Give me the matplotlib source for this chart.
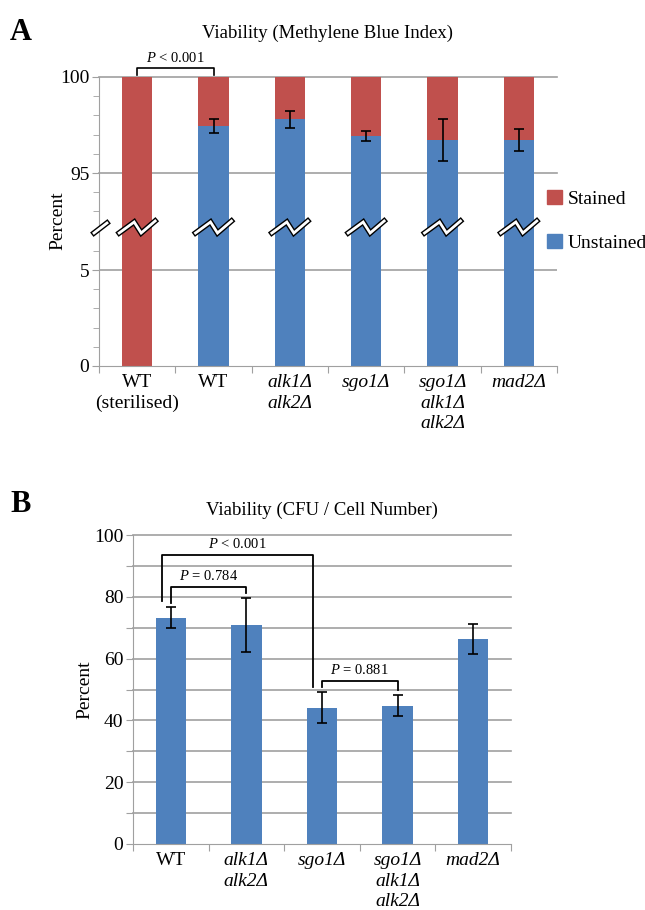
import numpy as np
import matplotlib
matplotlib.use("Agg")
import matplotlib.pyplot as plt
from matplotlib import font_manager as fm
from matplotlib.lines import Line2D
from matplotlib.patches import Patch
from matplotlib.ticker import MultipleLocator

plt.rcParams['font.family'] = ['Liberation Serif', 'DejaVu Serif']
plt.rcParams['mathtext.fontset'] = 'custom'
plt.rcParams['mathtext.it'] = 'Liberation Serif:italic'
plt.rcParams['mathtext.rm'] = 'Liberation Serif'

# panel A: methylene blue index
strains_a = ['WT\n(sterilised)', 'WT', 'alk1Δ\nalk2Δ', 'sgo1Δ', 'sgo1Δ\nalk1Δ\nalk2Δ', 'mad2Δ']
italic_a = [False, False, True, True, True, True]
unstained = [0.0, 97.45, 97.8, 96.93, 96.72, 96.72]
unstained_err = [0.0, 0.35, 0.45, 0.27, 1.08, 0.55]
stained = [100 - u for u in unstained]

# panel B: CFU / cell number
strains_b = ['WT', 'alk1Δ\nalk2Δ', 'sgo1Δ', 'sgo1Δ\nalk1Δ\nalk2Δ', 'mad2Δ']
italic_b = [False, True, True, True, True]
cfu = [73.3, 70.9, 44.1, 44.8, 66.3]
cfu_err = [3.3, 8.7, 5.1, 3.4, 4.9]
# comparisons: (bar i, bar j, bracket height, label)
comparisons_b = [(0, 1, 83.2, '$P$ = 0.784'), (0, 2, 93.5, '$P$ < 0.001'), (2, 3, 52.9, '$P$ = 0.881')]

RED = '#C0504D'
BLUE = '#4F81BD'
GRID = '#A0A0A0'
W, H = 645, 910

# look up the serif italic file directly so the labels stay in the serif face
italic_fp = fm.FontProperties(family=['Liberation Serif', 'DejaVu Serif'], style='italic', size=14)
for f in fm.fontManager.ttflist:
    if f.name == 'Liberation Serif' and f.style == 'italic' and f.weight in (400, 'normal', 'regular'):
        italic_fp = fm.FontProperties(fname=f.fname, size=14)
        break

fig = plt.figure(figsize=(W / 100, H / 100), dpi=100)


def px(x, y, w, h):
    return [x / W, 1 - (y + h) / H, w / W, h / H]


def style_axis(ax, spines):
    for s in ['top', 'right', 'bottom', 'left']:
        ax.spines[s].set_visible(s in spines)
        ax.spines[s].set_color(GRID)
    ax.tick_params(which='both', colors=GRID, labelcolor='black', labelsize=14)


def cat_labels(ax, x, labels, italic):
    ax.set_xticks(np.arange(len(labels) + 1) - 0.5)
    ax.set_xticklabels([])
    ax.set_xticks(x, minor=True)
    ax.set_xticklabels(labels, minor=True, linespacing=1.25)
    ax.tick_params(axis='x', which='major', length=5)
    ax.tick_params(axis='x', which='minor', length=0, pad=6, labelsize=14)
    for lab, it in zip(ax.get_xticklabels(minor=True), italic):
        if it:
            lab.set_fontproperties(italic_fp)


# ---------- panel A ----------
top_break = 92.14
bot_break = 7.19
axA1 = fig.add_axes(px(99, 77, 458, 151))
axA2 = fig.add_axes(px(99, 228, 458, 138))
xa = np.arange(len(strains_a))
for ax in (axA1, axA2):
    ax.bar(xa, unstained, width=0.4, color=BLUE, zorder=2)
    ax.bar(xa, stained, bottom=unstained, width=0.4, color=RED, zorder=2)
    ax.set_xlim(-0.5, len(strains_a) - 0.5)
    ax.yaxis.set_minor_locator(MultipleLocator(1))
axA1.set_ylim(top_break, 100)
axA2.set_ylim(0, bot_break)
axA1.set_yticks([95, 100])
axA2.set_yticks([0, 5])
style_axis(axA1, ['left'])
style_axis(axA2, ['left', 'bottom'])
for ax in (axA1, axA2):
    ax.tick_params(axis='y', which='major', length=5, pad=2)
    ax.tick_params(axis='y', which='minor', length=4)
axA1.set_xticks([])
cat_labels(axA2, xa, strains_a, italic_a)
for yv in (95, 100):
    axA1.axhline(yv, color=GRID, lw=1.2, zorder=1, clip_on=False)
axA2.axhline(5, color=GRID, lw=1.2, zorder=1)

idx = [i for i in xa if unstained_err[i] > 0]
axA1.errorbar([xa[i] for i in idx], [unstained[i] for i in idx],
              yerr=[unstained_err[i] for i in idx], fmt='none', ecolor='black',
              elinewidth=1.2, capsize=3.5, capthick=1.2, zorder=3)

# bracket for panel A
axA1.plot([0, 0, 1, 1], [100.1, 100.47, 100.47, 100.1], color='black', lw=1.2,
          clip_on=False, zorder=4)
axA1.text(0.5, 100.62, '$P$ < 0.001', ha='center', va='bottom', fontsize=10.5)

# break marks
fig.canvas.draw()
inv = fig.transFigure.inverted()
ybrk = axA2.transAxes.transform((0, 1))[1]


def break_mark(xd, offsets):
    pts = np.array([(xd + dx, ybrk + dy) for dx, dy in offsets])
    f = inv.transform(pts)
    fig.add_artist(Line2D(f[:, 0], f[:, 1], color='black', lw=4.0,
                          solid_joinstyle='miter', zorder=10))
    fig.add_artist(Line2D(f[:, 0], f[:, 1], color='white', lw=2.0,
                          solid_joinstyle='miter', zorder=11))


for i in xa:
    xd = axA2.transData.transform((i, 0))[0]
    break_mark(xd, [(-18, -5), (-3, 6), (4, -5), (18, 7)])
xd0 = axA2.transAxes.transform((0, 0))[0]
break_mark(xd0, [(-5, -5), (8, 5)])

fig.legend(handles=[Patch(color=RED), Patch(color=BLUE)],
           labels=['Stained', 'Unstained'], loc='upper left',
           bbox_to_anchor=(547 / W, 1 - 190 / H), frameon=False, fontsize=14,
           handlelength=0.75, handleheight=0.75, handletextpad=0.3,
           labelspacing=1.35, borderpad=0, borderaxespad=0)

fig.text(328 / W, 1 - 33 / H, 'Viability (Methylene Blue Index)', ha='center',
         va='center', fontsize=13.5)
fig.text(58 / W, 1 - 221 / H, 'Percent', ha='center', va='center',
         rotation=90, fontsize=14)
fig.text(10 / W, 1 - 33 / H, 'A', ha='left', va='center', fontsize=22,
         fontweight='bold')

# ---------- panel B ----------
axB = fig.add_axes(px(133, 535, 378, 309))
xb = np.arange(len(strains_b))
axB.bar(xb, cfu, width=0.4, color=BLUE, zorder=2)
axB.errorbar(xb, cfu, yerr=cfu_err, fmt='none', ecolor='black',
             elinewidth=1.2, capsize=3.5, capthick=1.2, zorder=3)
axB.set_xlim(-0.5, len(strains_b) - 0.5)
axB.set_ylim(0, 100)
style_axis(axB, ['left', 'bottom'])
axB.set_yticks(np.arange(0, 101, 10))
axB.set_yticklabels([str(v) if v % 20 == 0 else '' for v in range(0, 101, 10)])
axB.tick_params(axis='y', length=5, pad=2)
for yv in range(10, 101, 10):
    axB.axhline(yv, color=GRID, lw=1.2, zorder=1, clip_on=False)
cat_labels(axB, xb, strains_b, italic_b)

gap = 1.5
for i, j, yt, lab in comparisons_b:
    xi, xj = i, j
    if j - i > 1:
        xi, xj = i - 0.12, j - 0.12
    yi = cfu[i] + cfu_err[i] + gap
    yj = cfu[j] + cfu_err[j] + gap
    if j - i > 1:
        yi = yi + 0.5
    axB.plot([xi, xi, xj, xj], [yi, yt, yt, yj], color='black', lw=1.3, zorder=4)
    axB.text((xi + xj) / 2, yt + 1.2, lab, ha='center', va='bottom', fontsize=10.5)

fig.text(322 / W, 1 - 510 / H, 'Viability (CFU / Cell Number)', ha='center',
         va='center', fontsize=13.5)
fig.text(85 / W, 1 - 690 / H, 'Percent', ha='center', va='center',
         rotation=90, fontsize=14)
fig.text(10 / W, 1 - 504 / H, 'B', ha='left', va='center', fontsize=22,
         fontweight='bold')

fig.savefig('out.png', dpi=100)
